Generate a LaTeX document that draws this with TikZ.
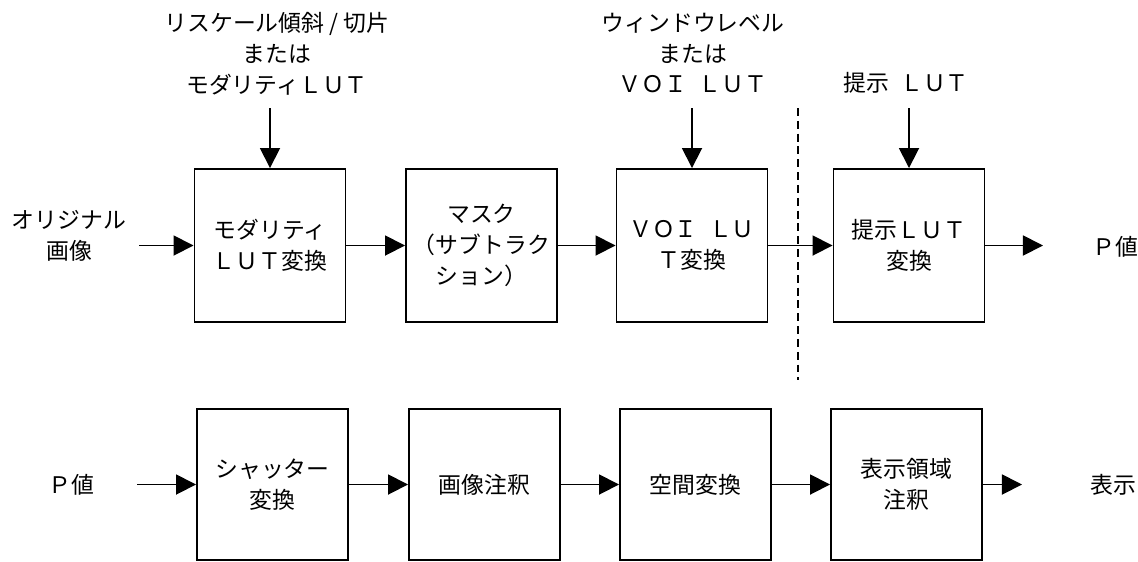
\documentclass[tikz,border=0pt]{standalone}
\usepackage{fontspec}
\setmainfont{Noto Sans CJK JP}
\usetikzlibrary{arrows.meta}

\tikzset{
  stage/.style={draw,shape=rectangle,line width=1.1pt,minimum width=3.02cm,
    minimum height=3.06cm,align=center,inner sep=0pt},
  flow/.style={line width=1pt,-{Triangle[length=11.4pt,width=11.4pt]}},
  txt/.style={align=center,inner sep=0pt},
  sep/.style={line width=0.8pt,dash pattern=on 4.5pt off 2.8pt}
}

\begin{document}
\begin{tikzpicture}[font=\fontsize{13pt}{17.5pt}\selectfont]
   \useasboundingbox (0,0) rectangle (22.76,-11.22);
   % upper chain
   \path (5.40,-4.91) node[stage] (T1) {モダリティ\\ＬＵＴ変換};
   \path (9.63,-4.91) node[stage] (T2) {マスク\\（サブトラク\\ション）};
   \path (13.84,-4.91) node[stage] (T3) {ＶＯＩ\enspace ＬＵ\\Ｔ変換};
   \path (18.18,-4.91) node[stage] (T4) {提示ＬＵＴ\\変換};
   \path (1.38,-4.72) node[txt] (Tin) {オリジナル\\画像};
   \path (22.30,-4.94) node[txt] (Tout) {Ｐ値};
   \path (5.54,-1.08) node[txt] (T1n) {リスケール傾斜 / 切片\\または\\モダリティＬＵＴ};
   \path (13.86,-1.06) node[txt] (T3n) {ウィンドウレベル\\または\\ＶＯＩ\enspace ＬＵＴ};
   \path (18.12,-1.66) node[txt] (T4n) {提示\enspace ＬＵＴ};
   \coordinate (T1a) at (5.40,-2.16);
   \coordinate (T3a) at (13.84,-2.16);
   \coordinate (T4a) at (18.18,-2.16);
   \coordinate (Tina) at (2.78,-4.91);
   \coordinate (Touta) at (20.86,-4.91);
   \draw[flow] (T1a) -- (T1.north);
   \draw[flow] (T3a) -- (T3.north);
   \draw[flow] (T4a) -- (T4.north);
   \draw[flow] (Tina) -- (T1.west);
   \draw[flow] (T1.east) -- (T2.west);
   \draw[flow] (T2.east) -- (T3.west);
   \draw[flow] (T3.east) -- (T4.west);
   \draw[flow] (T4.east) -- (Touta);
   \draw[sep] (15.96,-2.16) -- (15.96,-7.60);
   % lower chain
   \path (5.45,-9.69) node[stage,minimum height=3.02cm] (B1) {シャッター\\変換};
   \path (9.69,-9.69) node[stage,minimum height=3.02cm] (B2) {画像注釈};
   \path (13.91,-9.69) node[stage,minimum height=3.02cm] (B3) {空間変換};
   \path (18.13,-9.69) node[stage,minimum height=3.02cm] (B4) {表示領域\\注釈};
   \path (1.42,-9.70) node[txt] (Bin) {Ｐ値};
   \path (22.26,-9.70) node[txt] (Bout) {表示};
   \coordinate (Bina) at (2.74,-9.69);
   \coordinate (Bouta) at (20.44,-9.69);
   \draw[flow] (Bina) -- (B1.west);
   \draw[flow] (B1.east) -- (B2.west);
   \draw[flow] (B2.east) -- (B3.west);
   \draw[flow] (B3.east) -- (B4.west);
   \draw[flow] (B4.east) -- (Bouta);
\end{tikzpicture}
\end{document}
